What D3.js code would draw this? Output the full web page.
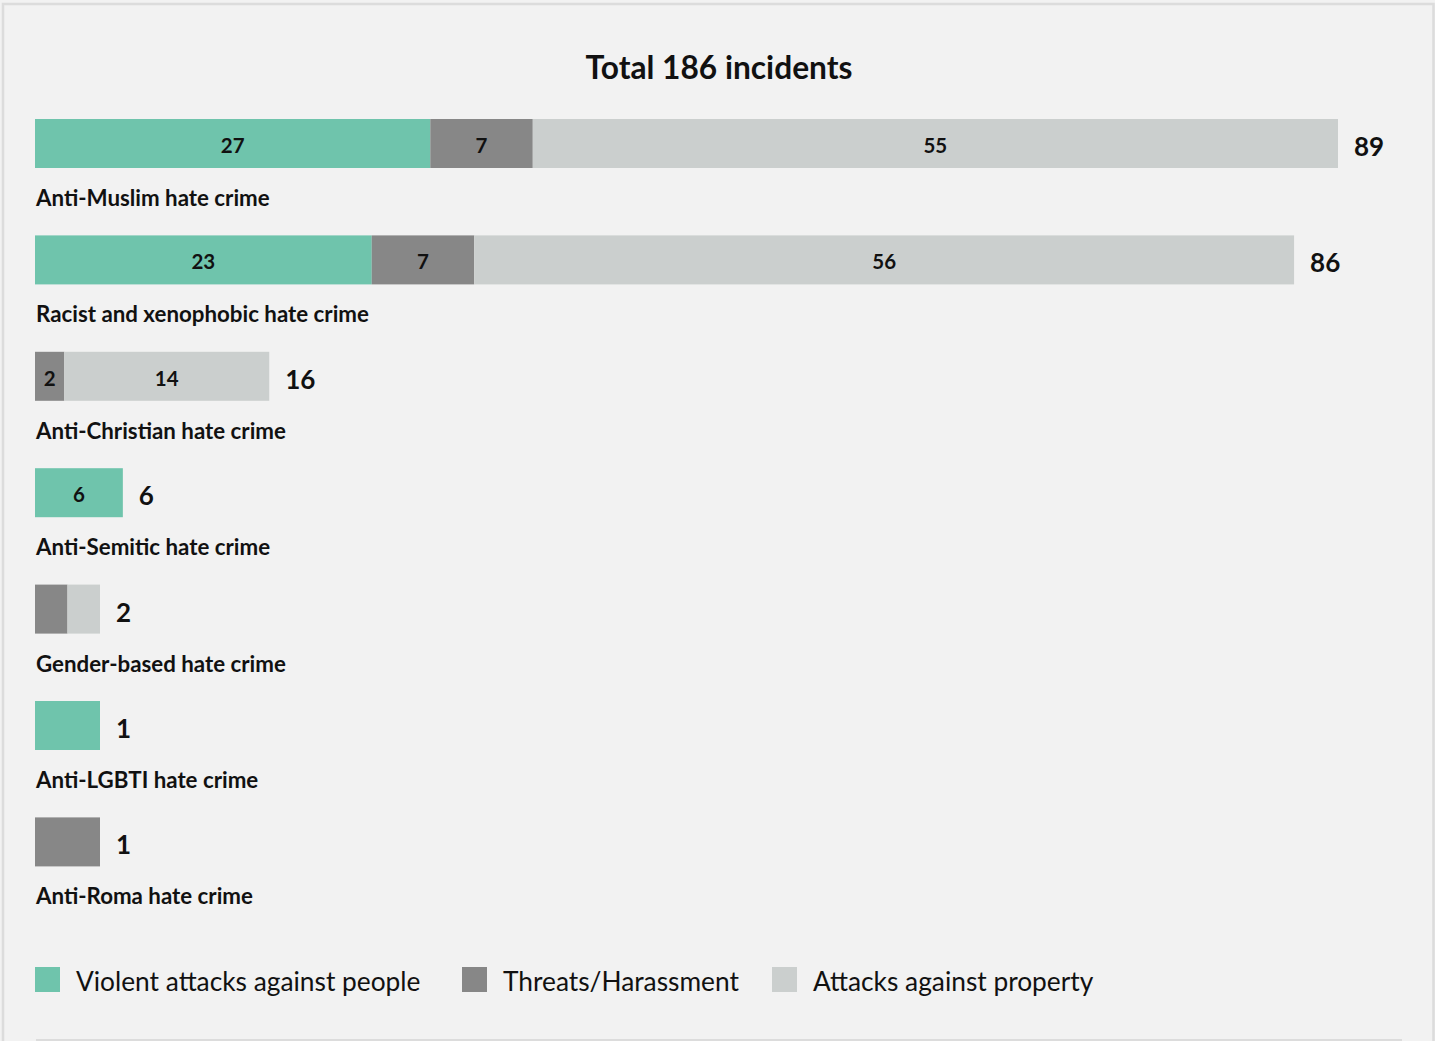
<!DOCTYPE html>
<html>
<head>
<meta charset="utf-8">
<script src="https://cdn.jsdelivr.net/npm/d3@7"></script>
<style>
  html, body { margin: 0; padding: 0; background: #f2f2f2; }
  svg { display: block; }
  text { font-family: Lato, "Open Sans", sans-serif; fill: #111; }
</style>
</head>
<body>
<svg id="chart" width="1435" height="1041"></svg>
<script>
const categories = [
  "Anti-Muslim hate crime",
  "Racist and xenophobic hate crime",
  "Anti-Christian hate crime",
  "Anti-Semitic hate crime",
  "Gender-based hate crime",
  "Anti-LGBTI hate crime",
  "Anti-Roma hate crime"
];
const violent  = [27, 23, 0, 6, 0, 1, 0];
const threats  = [7, 7, 2, 0, 1, 0, 1];
const property = [55, 56, 14, 0, 1, 0, 0];
const seriesNames = ["Violent attacks against people", "Threats/Harassment", "Attacks against property"];
const seriesKeys = ["violent", "threats", "property"];
const title = "Total 186 incidents";

const colors = d3.scaleOrdinal().domain(seriesKeys).range(["#6fc4ac", "#878787", "#cbcfce"]);

const svg = d3.select("#chart");
const W = 1435, H = 1041;

// panel background + border
svg.append("rect").attr("x", 0).attr("y", 0).attr("width", W).attr("height", H).attr("fill", "#f2f2f2");
svg.append("path")
  .attr("d", `M3,${H} L3,4 L1433.5,4 L1433.5,${H}`)
  .attr("fill", "none").attr("stroke", "#dcdcdc").attr("stroke-width", 2.5);
svg.append("line").attr("x1", 36).attr("x2", 1402).attr("y1", 1040).attr("y2", 1040)
  .attr("stroke", "#dcdcdc").attr("stroke-width", 2);

// title
svg.append("text").attr("x", 719).attr("y", 79).attr("text-anchor", "middle")
  .style("font-size", "31.7px").style("font-weight", "700").text(title);

const rows = categories.map((c, i) => ({
  cat: c, violent: violent[i], threats: threats[i], property: property[i],
  total: violent[i] + threats[i] + property[i]
}));

const maxTotal = d3.max(rows, d => d.total);
const x = d3.scaleLinear().domain([0, maxTotal]).range([35, 1338]);
const minWidth = 65;
const y = d3.scaleBand().domain(categories).range([119, 119 + 116.4 * categories.length]).paddingInner(0);
const barH = 49;

const stack = d3.stack().keys(seriesKeys)(rows);

rows.forEach((r, i) => {
  const natural = x(r.total) - x(0);
  r.factor = natural < minWidth ? minWidth / natural : 1;
  r.end = x(0) + natural * r.factor;
});
const px = (r, v) => x(0) + (x(v) - x(0)) * r.factor;

const g = svg.append("g");
stack.forEach(layer => {
  const key = layer.key;
  layer.forEach(seg => {
    const r = seg.data;
    const v = seg[1] - seg[0];
    if (v <= 0) return;
    const x0 = px(r, seg[0]), x1 = px(r, seg[1]);
    g.append("rect")
      .attr("x", x0).attr("y", y(r.cat))
      .attr("width", x1 - x0).attr("height", barH)
      .attr("fill", colors(key));
    if (v >= 2) {
      g.append("text")
        .attr("x", (x0 + x1) / 2).attr("y", y(r.cat) + 34)
        .attr("text-anchor", "middle")
        .style("font-size", "20.5px").style("font-weight", "700")
        .text(v);
    }
  });
});

rows.forEach(r => {
  g.append("text").attr("x", r.end + 16).attr("y", y(r.cat) + 37)
    .style("font-size", "26px").style("font-weight", "700").text(r.total);
  g.append("text").attr("x", 36).attr("y", y(r.cat) + 87)
    .style("font-size", "22.3px").style("font-weight", "700").text(r.cat);
});

// legend
const legendX = [35, 462, 772];
const leg = svg.append("g");
seriesKeys.forEach((k, i) => {
  leg.append("rect").attr("x", legendX[i]).attr("y", 967).attr("width", 25).attr("height", 25).attr("fill", colors(k));
  leg.append("text").attr("x", legendX[i] + 41).attr("y", 991)
    .style("font-size", "26.3px").style("font-weight", "400").text(seriesNames[i]);
});
</script>
</body>
</html>
